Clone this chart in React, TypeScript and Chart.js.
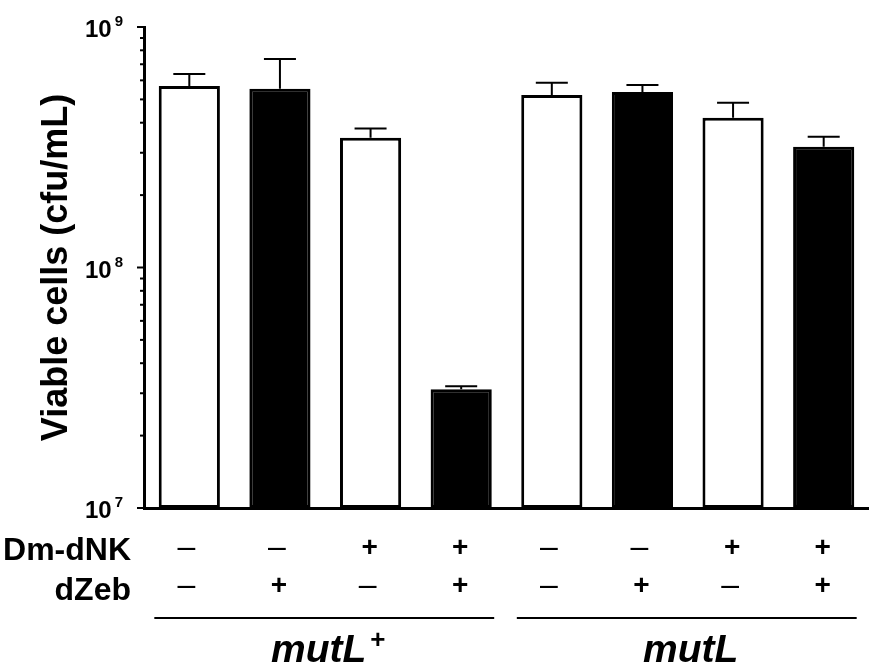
import React, { useEffect, useRef } from "react";
import { Chart, registerables } from "chart.js";

Chart.register(...registerables);

const categories = ["1", "2", "3", "4", "5", "6", "7", "8"];
const viableCells = [5.69e8, 5.53e8, 3.46e8, 3.12e7, 5.22e8, 5.37e8, 4.19e8, 3.18e8];
const errorPlus = [0.69e8, 1.83e8, 0.32e8, 0.09e7, 0.64e8, 0.37e8, 0.65e8, 0.32e8];
const barFill = ["#ffffff", "#000000", "#ffffff", "#000000", "#ffffff", "#000000", "#ffffff", "#000000"];
const dmDnkRow = ["–", "–", "+", "+", "–", "–", "+", "+"];
const dZebRow = ["–", "+", "–", "+", "–", "+", "–", "+"];
const rowLabels = ["Dm-dNK", "dZeb"];
const groupLabels = ["mutL", "mutL"];
const groupSup = ["+", ""];
const groupRanges = [[0, 3], [4, 7]];
const majorExps = [7, 8, 9];
const minorMult = [2, 3, 4, 5, 6, 7, 8, 9];
const yTitle = "Viable cells (cfu/mL)";

const FONT = "'Liberation Sans', Arial, sans-serif";

const overlay = {
  id: "overlay",
  afterDatasetsDraw(chart: any) {
    const ctx = chart.ctx;
    const y = chart.scales.y;
    const meta = chart.getDatasetMeta(0);
    ctx.save();
    ctx.strokeStyle = "#000";
    ctx.lineWidth = 2;
    meta.data.forEach((bar: any, i: number) => {
      const top = y.getPixelForValue(viableCells[i]);
      const errY = y.getPixelForValue(viableCells[i] + errorPlus[i]);
      ctx.beginPath();
      ctx.moveTo(bar.x, top);
      ctx.lineTo(bar.x, errY);
      ctx.moveTo(bar.x - 16, errY);
      ctx.lineTo(bar.x + 16, errY);
      ctx.stroke();
    });
    ctx.restore();
  },
  afterDraw(chart: any) {
    const ctx = chart.ctx;
    const y = chart.scales.y;
    const area = chart.chartArea;
    const meta = chart.getDatasetMeta(0);
    const ax = area.left;
    ctx.save();
    ctx.strokeStyle = "#000";
    ctx.fillStyle = "#000";
    // ticks
    majorExps.forEach((e, k) => {
      const py = y.getPixelForValue(Math.pow(10, e));
      ctx.lineWidth = 2;
      ctx.beginPath();
      ctx.moveTo(ax - 7, py);
      ctx.lineTo(ax, py);
      ctx.stroke();
      if (k < majorExps.length - 1) {
        minorMult.forEach((m) => {
          const my = y.getPixelForValue(m * Math.pow(10, e));
          ctx.beginPath();
          ctx.moveTo(ax - 4, my);
          ctx.lineTo(ax, my);
          ctx.stroke();
        });
      }
      // label 10^e
      ctx.textAlign = "right";
      ctx.textBaseline = "alphabetic";
      ctx.font = `bold 15px ${FONT}`;
      const supW = ctx.measureText(String(e)).width;
      ctx.fillText(String(e), 123, py - 1);
      ctx.font = `bold 24px ${FONT}`;
      ctx.fillText("10", 123 - supW - 3, py + 10);
    });
    // y title
    ctx.save();
    ctx.translate(57, (area.top + area.bottom) / 2);
    ctx.rotate(-Math.PI / 2);
    ctx.font = `bold 36px ${FONT}`;
    ctx.textAlign = "center";
    ctx.textBaseline = "middle";
    ctx.fillText(yTitle, 0, 0);
    ctx.restore();
    // table
    ctx.font = `bold 32px ${FONT}`;
    ctx.textAlign = "right";
    ctx.textBaseline = "alphabetic";
    ctx.fillText(rowLabels[0], 131, 560);
    ctx.fillText(rowLabels[1], 131, 600);
    const rows = [dmDnkRow, dZebRow];
    const rowY = [548, 586];
    ctx.textAlign = "center";
    ctx.textBaseline = "middle";
    rows.forEach((row, r) => {
      row.forEach((s, i) => {
        const bx = meta.data[i].x;
        if (s === "+") {
          ctx.font = `bold 28px ${FONT}`;
          ctx.fillText(s, bx - 1, rowY[r]);
        } else {
          ctx.font = `normal 32px ${FONT}`;
          ctx.fillText(s, bx - 3, rowY[r]);
        }
      });
    });
    // group lines & labels
    ctx.lineWidth = 2;
    groupRanges.forEach((g, k) => {
      const x0 = meta.data[g[0]].x - 35;
      const x1 = meta.data[g[1]].x + 33;
      ctx.beginPath();
      ctx.moveTo(x0, 618);
      ctx.lineTo(x1, 618);
      ctx.stroke();
      ctx.font = `italic bold 39px ${FONT}`;
      const w = ctx.measureText(groupLabels[k]).width;
      ctx.font = `bold 26px ${FONT}`;
      const sw = groupSup[k] ? ctx.measureText(groupSup[k]).width + 4 : 0;
      const cx = (x0 + x1) / 2 + 4;
      const startX = cx - (w + sw) / 2;
      ctx.textAlign = "left";
      ctx.textBaseline = "alphabetic";
      ctx.font = `italic bold 39px ${FONT}`;
      ctx.fillText(groupLabels[k], startX, 662);
      if (groupSup[k]) {
        ctx.font = `bold 26px ${FONT}`;
        ctx.fillText(groupSup[k], startX + w + 4, 648);
      }
    });
    ctx.restore();
  },
};

export default function App() {
  const ref = useRef<HTMLCanvasElement>(null);
  useEffect(() => {
    if (!ref.current) return;
    const chart = new Chart(ref.current, {
      type: "bar",
      data: {
        labels: categories,
        datasets: [
          {
            data: viableCells,
            backgroundColor: barFill,
            borderColor: "#000",
            borderWidth: 3,
            borderSkipped: false,
            barPercentage: 0.675,
            categoryPercentage: 1,
          },
        ],
      },
      options: {
        responsive: false,
        animation: false,
        layout: { padding: { left: 144, right: 0, top: 27, bottom: 158 } },
        plugins: { legend: { display: false }, tooltip: { enabled: false } },
        scales: {
          x: {
            grid: { display: false, drawTicks: false },
            border: { display: true, color: "#000", width: 3 },
            ticks: { display: false },
            afterFit: (s: any) => { s.height = 0; },
          },
          y: {
            type: "logarithmic",
            min: 1e7,
            max: 1e9,
            grid: { display: false, drawTicks: false },
            border: { display: true, color: "#000", width: 3 },
            ticks: { display: false },
            afterFit: (s: any) => { s.width = 0; },
          },
        },
      },
      plugins: [overlay],
    });
    return () => chart.destroy();
  }, []);
  return (
    <div style={{ position: "fixed", left: 0, top: 0, width: 869, height: 666, background: "#fff" }}>
      <canvas ref={ref} width={869} height={666} style={{ display: "block" }} />
    </div>
  );
}
